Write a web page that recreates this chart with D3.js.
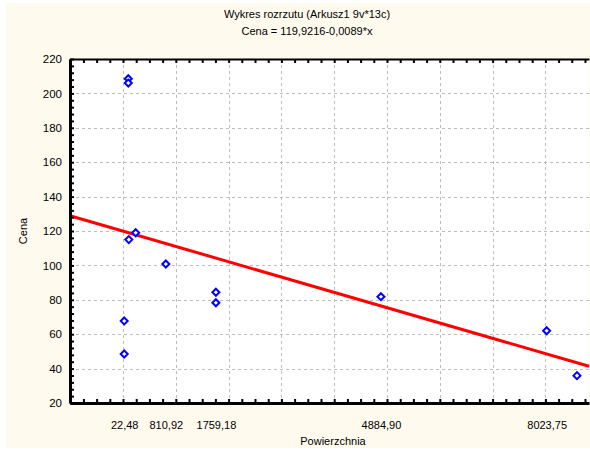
<!DOCTYPE html>
<html>
<head>
<meta charset="utf-8">
<script src="https://cdn.jsdelivr.net/npm/d3@7"></script>
<style>
  html, body { margin: 0; padding: 0; background: #ffffff; }
  svg { display: block; font-family: "Liberation Sans", Arial, sans-serif; }
</style>
</head>
<body>
<svg id="chart"></svg>
<script>
// scatter data (Powierzchnia vs Cena)
const areaValues  = [100, 100, 110, 240, 22.48, 22.48, 810.92, 1759.18, 1759.18, 4884.90, 8023.75, 8598];
const priceValues = [208.5, 206, 115, 119, 67.7, 48.5, 100.8, 84.4, 78.3, 81.8, 62, 35.9];
// regression: Cena = 119,9216 - 0,0089*x
const fitParams = [119.9216, -0.0089];
const xLabelValues = [22.48, 810.92, 1759.18, 4884.90, 8023.75];
const xGridValues = [0, 1000, 2000, 3000, 4000, 5000, 6000, 7000, 8000];
const yTickValues = [20, 40, 60, 80, 100, 120, 140, 160, 180, 200, 220];
const titleLines = ["Wykres rozrzutu (Arkusz1 9v*13c)", "Cena = 119,9216-0,0089*x"];

const svgWidth = 590;
const svgHeight = 449;
const plot = {left: 70, right: 589, top: 59, bottom: 403};

const svg = d3.select("#chart")
	.attr("width", svgWidth)
	.attr("height", svgHeight);

// cream frame
svg.append("rect")
	.attr("x", 6).attr("y", 3)
	.attr("width", svgWidth - 6).attr("height", svgHeight - 4)
	.attr("fill", "#fffaee");

const xScale = d3.scaleLinear()
	.domain([-1004, 8826])
	.range([plot.left, plot.right]);
const yScale = d3.scaleLinear()
	.domain([20, 220])
	.range([plot.bottom, plot.top]);

svg.append("rect")
	.attr("x", plot.left).attr("y", plot.top)
	.attr("width", plot.right - plot.left).attr("height", plot.bottom - plot.top)
	.attr("fill", "#ffffff");

// grid
svg.append("g")
	.selectAll("line")
	.data(xGridValues)
	.join("line")
		.attr("x1", d => Math.round(xScale(d)) + 0.5)
		.attr("x2", d => Math.round(xScale(d)) + 0.5)
		.attr("y1", plot.top)
		.attr("y2", plot.bottom)
		.attr("stroke", "#bdbdbd")
		.attr("stroke-dasharray", "3,3");
svg.append("g")
	.selectAll("line")
	.data(yTickValues.slice(1, -1))
	.join("line")
		.attr("x1", plot.left)
		.attr("x2", plot.right)
		.attr("y1", d => Math.round(yScale(d)) + 0.5)
		.attr("y2", d => Math.round(yScale(d)) + 0.5)
		.attr("stroke", "#bdbdbd")
		.attr("stroke-dasharray", "3,3");

// regression line
const fitX = xScale.domain();
const line = d3.line()
	.x(d => xScale(d))
	.y(d => yScale(fitParams[0] + fitParams[1] * d));
svg.append("path")
	.datum(fitX)
	.attr("d", line)
	.attr("fill", "none")
	.attr("stroke", "#ff0000")
	.attr("stroke-width", 3);

// points
svg.append("g")
	.selectAll("path")
	.data(areaValues.map((a, i) => ({x: a, y: priceValues[i]})))
	.join("path")
		.attr("transform", d => `translate(${xScale(d.x)},${yScale(d.y)})`)
		.attr("d", "M0,-3.5L3.5,0L0,3.5L-3.5,0Z")
		.attr("fill", "#ffffff")
		.attr("stroke", "#0000ff")
		.attr("stroke-width", 2);

// axes with inward ticks
const minorX = d3.range(-1000, 8827, 250);
const minorY = d3.range(20, 221, 4);

svg.append("g")
	.attr("transform", `translate(0, ${plot.bottom})`)
	.call(d3.axisTop(xScale).tickValues(minorX).tickSize(4).tickFormat("").tickSizeOuter(0))
	.call(g => g.select(".domain").attr("stroke-width", 3))
	.call(g => g.selectAll(".tick line").attr("stroke-width", 2));
svg.append("g")
	.attr("transform", `translate(0, ${plot.top})`)
	.call(d3.axisBottom(xScale).tickValues(minorX).tickSize(4).tickFormat("").tickSizeOuter(0))
	.call(g => g.select(".domain").attr("stroke-width", 2))
	.call(g => g.selectAll(".tick line").attr("stroke-width", 2));
svg.append("g")
	.attr("transform", `translate(${plot.left}, 0)`)
	.call(d3.axisRight(yScale).tickValues(minorY).tickSize(4).tickFormat("").tickSizeOuter(0))
	.call(g => g.select(".domain").attr("stroke-width", 3))
	.call(g => g.selectAll(".tick line").attr("stroke-width", 2));

// tick labels
const fmtComma = d => d.toFixed(2).replace(".", ",");
svg.append("g")
	.attr("transform", `translate(0, ${plot.bottom})`)
	.call(d3.axisBottom(xScale).tickValues(xLabelValues).tickSize(0).tickPadding(18).tickFormat(fmtComma))
	.call(g => g.select(".domain").remove())
	.call(g => g.selectAll("text").attr("font-size", 11).attr("fill", "#000").attr("font-family", null));
svg.append("g")
	.attr("transform", `translate(${plot.left}, 0)`)
	.call(d3.axisLeft(yScale).tickValues(yTickValues).tickSize(0).tickPadding(8))
	.call(g => g.select(".domain").remove())
	.call(g => g.selectAll("text").attr("font-size", 11.5).attr("fill", "#000").attr("font-family", null));

// titles
svg.append("g")
	.selectAll("text")
	.data(titleLines)
	.join("text")
		.attr("x", 307)
		.attr("y", (d, i) => 18 + i * 17)
		.attr("text-anchor", "middle")
		.attr("font-size", 11)
		.text(d => d);

svg.append("text")
	.text("Powierzchnia")
	.attr("x", 333)
	.attr("y", 445)
	.attr("text-anchor", "middle")
	.attr("font-size", 11);
svg.append("text")
	.text("Cena")
	.attr("transform", "rotate(-90)")
	.attr("x", -231)
	.attr("y", 27)
	.attr("text-anchor", "middle")
	.attr("font-size", 11);
</script>
</body>
</html>
